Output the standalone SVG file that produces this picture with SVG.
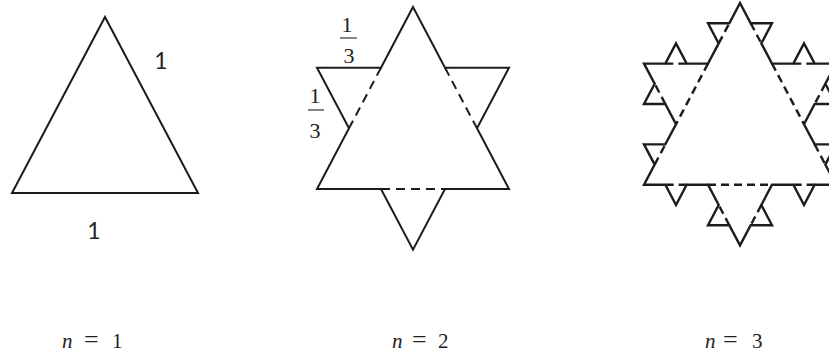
<svg xmlns="http://www.w3.org/2000/svg" width="829" height="356" viewBox="0 0 829 356">
<style>
.sol{fill:none;stroke:#1c1c1c;stroke-width:2;stroke-linejoin:miter;stroke-linecap:square}
.sol3{fill:none;stroke:#1c1c1c;stroke-width:2.4;stroke-linejoin:miter}
.dash{fill:none;stroke:#1c1c1c;stroke-width:2;stroke-dasharray:9 6}
.dash3{fill:none;stroke:#1c1c1c;stroke-width:2.4;stroke-dasharray:8 5}
.sans{font-family:Lato,'Liberation Sans',sans-serif;font-size:23px;fill:#222}
.serif{font-family:'Liberation Serif','Times New Roman',serif;font-size:22px;fill:#222}
.cap{font-family:'Liberation Serif','Times New Roman',serif;font-size:21px;fill:#222}
.bar{stroke:#333;stroke-width:1.2}
</style>
<rect width="829" height="356" fill="#ffffff"/>
<g id="fig1">
<polygon class="sol" points="105,17 198,193 12,193"/>
<text class="sans" x="161" y="69" text-anchor="middle">1</text>
<text class="sans" x="94" y="239" text-anchor="middle">1</text>
</g>
<g id="fig2">
<polygon class="sol" points="413,7 445,67.67 509,67.67 477,128.33 509,189 445,189 413,249.67 381,189 317,189 349,128.33 317,67.67 381,67.67"/>
<g id="fig2-dashed">
<line class="dash" x1="381" y1="67.67" x2="349" y2="128.33"/>
<line class="dash" x1="445" y1="67.67" x2="477" y2="128.33"/>
<line class="dash" x1="381" y1="189" x2="445" y2="189"/>
</g>
<g id="frac-top">
<text class="serif" x="347" y="32" text-anchor="middle">1</text>
<line class="bar" x1="340" y1="38" x2="357" y2="38"/>
<text class="serif" x="349" y="63" text-anchor="middle">3</text>
</g>
<g id="frac-left">
<text class="serif" x="315" y="103" text-anchor="middle">1</text>
<line class="bar" x1="308" y1="110" x2="324" y2="110"/>
<text class="serif" x="315" y="138" text-anchor="middle">3</text>
</g>
</g>
<g id="fig3">
<polygon class="sol3" points="740,3 750.67,23.2 772,23.2 761.33,43.4 772,63.6 793.33,63.6 804,43.4 814.67,63.6 836,63.6 825.33,83.8 836,104 814.67,104 804,124.2 814.67,144.4 836,144.4 825.33,164.6 836,184.8 814.67,184.8 804,205 793.33,184.8 772,184.8 761.33,205 772,225.2 750.67,225.2 740,245.4 729.33,225.2 708,225.2 718.67,205 708,184.8 686.67,184.8 676,205 665.33,184.8 644,184.8 654.67,164.6 644,144.4 665.33,144.4 676,124.2 665.33,104 644,104 654.67,83.8 644,63.6 665.33,63.6 676,43.4 686.67,63.6 708,63.6 718.67,43.4 708,23.2 729.33,23.2"/>
<g id="fig3-dashed">
<line class="dash3" x1="708" y1="63.6" x2="676" y2="124.2"/>
<line class="dash3" x1="772" y1="63.6" x2="804" y2="124.2"/>
<line class="dash3" x1="708" y1="184.8" x2="772" y2="184.8"/>
<line class="dash3" x1="750.67" y1="23.2" x2="761.33" y2="43.4"/>
<line class="dash3" x1="793.33" y1="63.6" x2="814.67" y2="63.6"/>
<line class="dash3" x1="825.33" y1="83.8" x2="814.67" y2="104"/>
<line class="dash3" x1="814.67" y1="144.4" x2="825.33" y2="164.6"/>
<line class="dash3" x1="814.67" y1="184.8" x2="793.33" y2="184.8"/>
<line class="dash3" x1="761.33" y1="205" x2="750.67" y2="225.2"/>
<line class="dash3" x1="729.33" y1="225.2" x2="718.67" y2="205"/>
<line class="dash3" x1="686.67" y1="184.8" x2="665.33" y2="184.8"/>
<line class="dash3" x1="654.67" y1="164.6" x2="665.33" y2="144.4"/>
<line class="dash3" x1="665.33" y1="104" x2="654.67" y2="83.8"/>
<line class="dash3" x1="665.33" y1="63.6" x2="686.67" y2="63.6"/>
<line class="dash3" x1="718.67" y1="43.4" x2="729.33" y2="23.2"/>
</g>
</g>
<g id="captions">
<text class="cap" x="62" y="348"><tspan font-style="italic">n</tspan><tspan x="84" font-size="26">=</tspan><tspan x="112">1</tspan></text>
<text class="cap" x="392" y="348"><tspan font-style="italic">n</tspan><tspan x="412" font-size="26">=</tspan><tspan x="438">2</tspan></text>
<text class="cap" x="705" y="348"><tspan font-style="italic">n</tspan><tspan x="723" font-size="26">=</tspan><tspan x="752">3</tspan></text>
</g>
</svg>
